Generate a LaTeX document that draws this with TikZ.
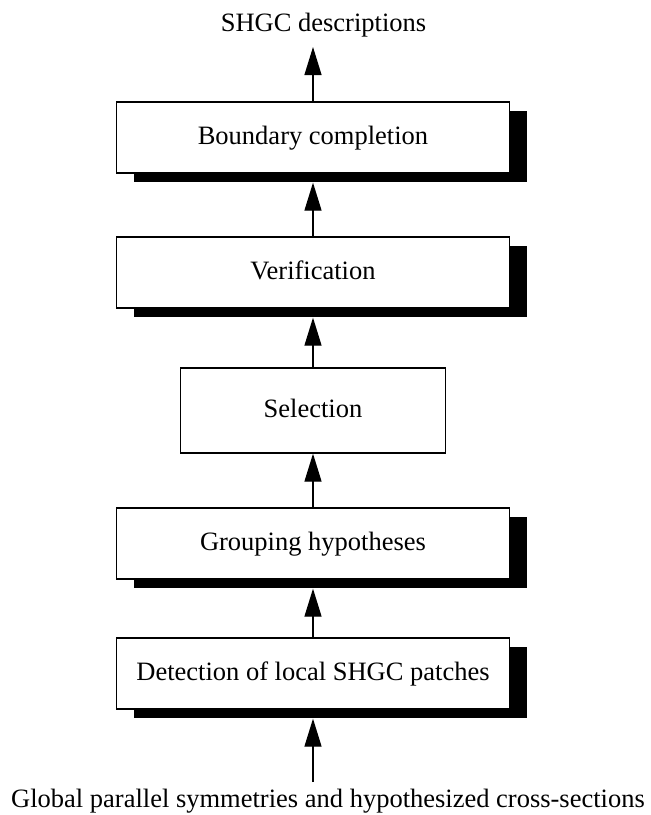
\documentclass[tikz,border=0pt]{standalone}
\usepackage{fontspec}
\setmainfont{Liberation Serif}
\usetikzlibrary{arrows.meta,shadows}
\begin{document}
\begin{tikzpicture}[x=1pt,y=1pt,
  every node/.style={font=\fontsize{26.5}{30}\selectfont},
  stagebox/.style={draw, line width=1.3pt, fill=white, minimum height=71pt,
    minimum width=393pt, inner sep=0pt, text height=18pt, text depth=5pt},
  shadowed/.style={drop shadow={shadow xshift=17pt, shadow yshift=-9pt, fill=black, opacity=1}},
  flow/.style={line width=1.3pt, -{Triangle[length=28pt,width=17pt]}}]
\useasboundingbox (0,0) rectangle (651,-815);
\node[stagebox,shadowed] (bc) at (313,-137.5) {Boundary completion};
\node[stagebox,shadowed] (ver) at (313,-272.5) {Verification};
\node[stagebox,minimum width=265pt,minimum height=85pt] (sel) at (313,-410.5) {Selection};
\node[stagebox,shadowed] (grp) at (313,-543.5) {Grouping hypotheses};
\node[stagebox,shadowed] (det) at (313,-673.5) {Detection of local SHGC patches};
\node[anchor=base] (out) at (323.5,-31) {SHGC descriptions};
\node[anchor=base] (in) at (328,-807) {Global parallel symmetries and hypothesized cross-sections};
\coordinate (outtip) at (313,-47);
\coordinate (instart) at (313,-782);
\draw[flow] (bc.north) -- (outtip);
\draw[flow] (ver.north) -- ([yshift=-9pt]bc.south);
\draw[flow] (sel.north) -- ([yshift=-9pt]ver.south);
\draw[flow] (grp.north) -- (sel.south);
\draw[flow] (det.north) -- ([yshift=-9pt]grp.south);
\draw[flow] (instart) -- ([yshift=-9pt]det.south);
\end{tikzpicture}
\end{document}
